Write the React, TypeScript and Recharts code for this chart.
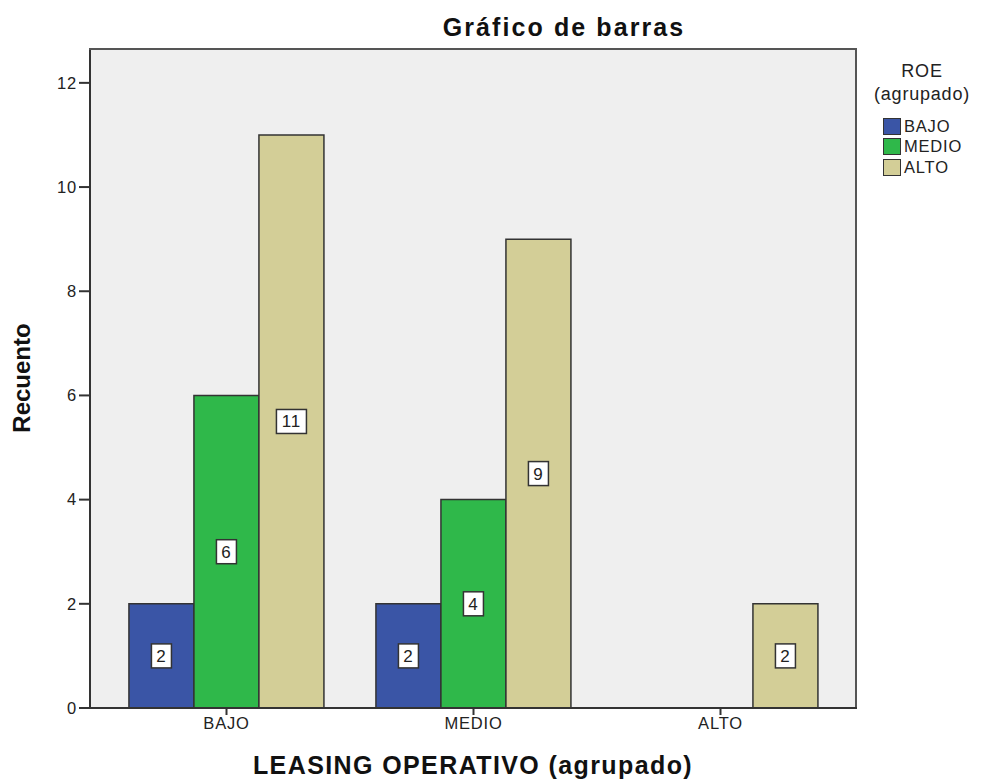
import React from "react";
import { BarChart, Bar, XAxis, YAxis, CartesianGrid, LabelList } from "recharts";

const categories = ["BAJO", "MEDIO", "ALTO"];
const bajo = [2, 2, null];
const medio = [6, 4, null];
const alto = [11, 9, 2];
const yTicks = [0, 2, 4, 6, 8, 10, 12];

const series = [
  { key: "BAJO", color: "#3a55a6" },
  { key: "MEDIO", color: "#2fb84a" },
  { key: "ALTO", color: "#d3ce97" },
];

const data = categories.map((c, i) => ({
  name: c,
  BAJO: bajo[i],
  MEDIO: medio[i],
  ALTO: alto[i],
}));

const FONT = "'Liberation Sans', Arial, sans-serif";
const tickStyle = { fontSize: 16.5, fill: "#222", fontFamily: FONT, letterSpacing: 0.8 };

function BoxLabel(props: any) {
  const { x, y, width, height, value } = props;
  if (value == null) return null;
  const cx = x + width / 2;
  const cy = y + height / 2;
  const text = String(value);
  const w = text.length > 1 ? 30 : 20;
  return (
    <g>
      <rect
        x={cx - w / 2}
        y={cy - 12}
        width={w}
        height={24}
        fill="#fff"
        stroke="#333"
        strokeWidth={1.5}
      />
      <text
        x={cx}
        y={cy + 6}
        textAnchor="middle"
        fontSize={17}
        fontFamily={FONT}
        fill="#222"
        letterSpacing={0.8}
      >
        {text}
      </text>
    </g>
  );
}

function LegendBox() {
  return (
    <div style={{ fontFamily: FONT, color: "#222", width: 124 }}>
      <div
        style={{
          textAlign: "center",
          fontSize: 18,
          lineHeight: "23px",
          letterSpacing: 0.8,
        }}
      >
        ROE
        <br />
        (agrupado)
      </div>
      <div style={{ marginTop: 10, marginLeft: 23 }}>
        {series.map((s) => (
          <div
            key={s.key}
            style={{
              display: "flex",
              alignItems: "center",
              fontSize: 16.5,
              letterSpacing: 0.8,
              height: 20.5,
            }}
          >
            <span
              style={{
                display: "inline-block",
                width: 16,
                height: 15,
                background: s.color,
                border: "1.5px solid #333",
                marginRight: 3,
              }}
            />
            {s.key}
          </div>
        ))}
      </div>
    </div>
  );
}

const heading = {
  position: "absolute" as const,
  fontFamily: FONT,
  fontWeight: "bold" as const,
  color: "#111",
  whiteSpace: "nowrap" as const,
};

export default function App() {
  return (
    <div
      style={{
        position: "absolute",
        left: 0,
        top: 0,
        width: 984,
        height: 782,
        background: "#fff",
      }}
    >
      <div style={{ position: "absolute", left: 0, top: 0 }}>
        <BarChart
          width={984}
          height={782}
          data={data}
          margin={{ top: 49, right: 127, left: 40, bottom: 44 }}
          barCategoryGap="10.5%"
          barGap={0}
        >
          <CartesianGrid fill="#efefef" horizontal={false} vertical={false} />
          <XAxis
            dataKey="name"
            height={30}
            padding={{ left: 13, right: 13 }}
            tick={tickStyle}
            tickLine={{ stroke: "#333", strokeWidth: 2 }}
            tickSize={7}
            axisLine={{ stroke: "#333", strokeWidth: 2 }}
          />
          <YAxis
            width={50}
            domain={[0, 12.65]}
            ticks={yTicks}
            allowDataOverflow
            tick={tickStyle}
            tickLine={{ stroke: "#333", strokeWidth: 2 }}
            tickSize={11}
            axisLine={{ stroke: "#333", strokeWidth: 2 }}
          />
          {series.map((s) => (
            <Bar
              key={s.key}
              dataKey={s.key}
              fill={s.color}
              stroke="#333"
              strokeWidth={1.5}
              isAnimationActive={false}
            >
              <LabelList dataKey={s.key} content={BoxLabel} />
            </Bar>
          ))}
        </BarChart>
      </div>
      {/* plot frame */}
      <div
        style={{
          position: "absolute",
          left: 89,
          top: 48,
          width: 766,
          height: 657,
          borderTop: "2px solid #555",
          borderRight: "2px solid #555",
          pointerEvents: "none",
        }}
      />
      <div style={{ position: "absolute", left: 860, top: 60 }}>
        <LegendBox />
      </div>
      <div
        style={{
          ...heading,
          left: 564,
          top: 13,
          fontSize: 25,
          letterSpacing: 2.1,
          transform: "translateX(-50%)",
        }}
      >
        Gráfico de barras
      </div>
      <div
        style={{
          ...heading,
          left: 473,
          top: 751,
          fontSize: 25,
          letterSpacing: 1.4,
          transform: "translateX(-50%)",
        }}
      >
        LEASING OPERATIVO (agrupado)
      </div>
      <div
        style={{
          ...heading,
          left: 22,
          top: 378,
          fontSize: 24,
          transform: "translate(-50%, -50%) rotate(-90deg)",
        }}
      >
        Recuento
      </div>
    </div>
  );
}
